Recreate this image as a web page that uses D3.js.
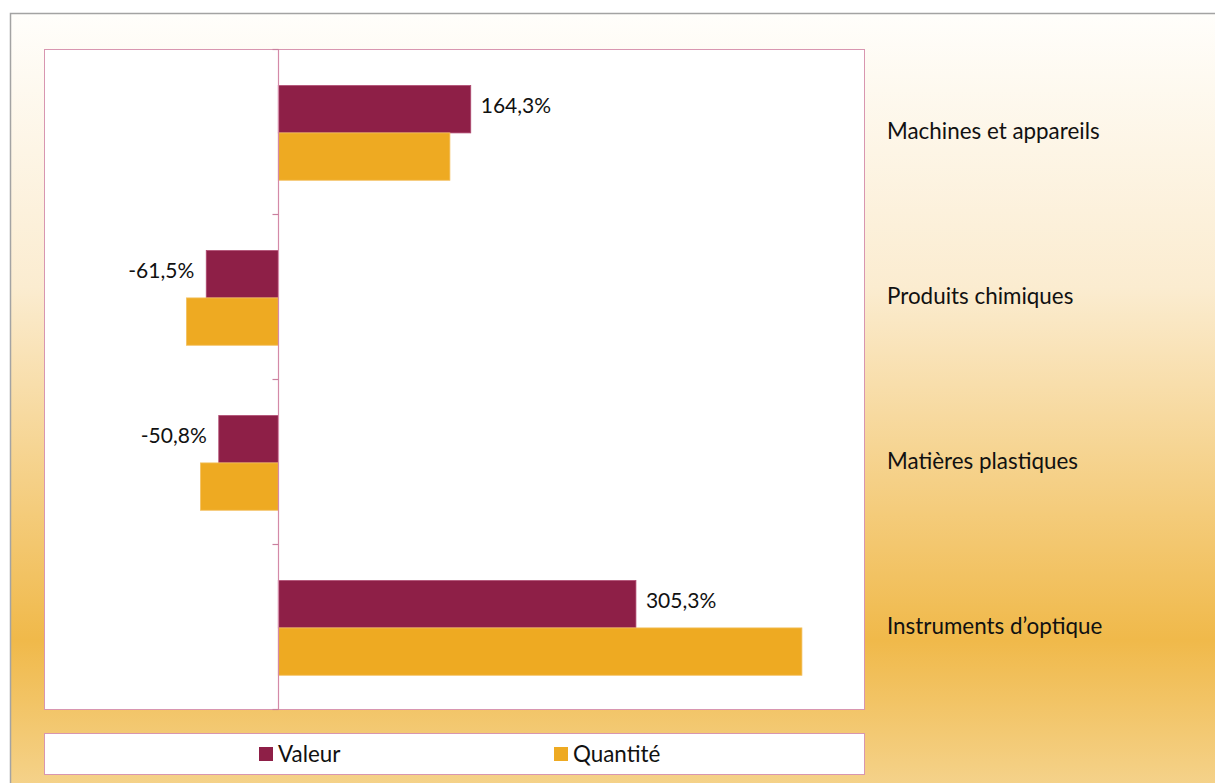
<!DOCTYPE html>
<html>
<head>
<meta charset="utf-8">
<script src="https://cdn.jsdelivr.net/npm/d3@7"></script>
<style>
  body { margin: 0; background: #fff; }
  svg { display: block; font-family: Lato, "Noto Sans", sans-serif; }
</style>
</head>
<body>
<div id="chart"></div>
<script>
// Data
const categories = ["Machines et appareils", "Produits chimiques", "Matières plastiques", "Instruments d’optique"];
const series = ["Valeur", "Quantité"];
const valeur = [164.3, -61.5, -50.8, 305.3];
const quantite = [146.5, -78.4, -66.4, 447.0];
const valeurLabels = ["164,3%", "-61,5%", "-50,8%", "305,3%"];
const colors = ["#8e1f47", "#eeaa22"];

const width = 1215;
const height = 783;

const svg = d3.select("#chart")
    .append("svg")
    .attr("width", width)
    .attr("height", height);

// Background gradient
const defs = svg.append("defs");
const grad = defs.append("linearGradient")
    .attr("id", "bg")
    .attr("x1", 0).attr("y1", 0).attr("x2", 0).attr("y2", 1);
grad.append("stop").attr("offset", "0%").attr("stop-color", "#fffefb");
grad.append("stop").attr("offset", "35%").attr("stop-color", "#fbecd0");
grad.append("stop").attr("offset", "80%").attr("stop-color", "#f0b94a");
grad.append("stop").attr("offset", "100%").attr("stop-color", "#f5d48f");

svg.append("rect")
    .attr("x", 10.5)
    .attr("y", 13.5)
    .attr("width", width)
    .attr("height", height)
    .attr("fill", "url(#bg)")
    .attr("stroke", "#a3a3a3")
    .attr("stroke-width", 1.5);

// Plot area
const plot = {left: 44, right: 864, top: 49, bottom: 709};

svg.append("rect")
    .attr("x", plot.left + 0.5)
    .attr("y", plot.top + 0.5)
    .attr("width", plot.right - plot.left)
    .attr("height", plot.bottom - plot.top)
    .attr("fill", "#fff")
    .attr("stroke", "#d896b0")
    .attr("stroke-width", 1);

const x = d3.scaleLinear()
    .domain([-200, 500])
    .range([plot.left, plot.right]);

const y = d3.scaleBand()
    .domain(categories)
    .range([plot.top, plot.bottom])
    .padding(0);

const ySub = d3.scaleBand()
    .domain(series)
    .range([0, y.bandwidth()])
    .paddingInner(0)
    .paddingOuter(0.742)
    .align(0.52);

const rows = categories.map((c, i) => ({
    cat: c,
    values: [
        {key: series[0], value: valeur[i], color: colors[0]},
        {key: series[1], value: quantite[i], color: colors[1]}
    ]
}));

// Bars
const groups = svg.selectAll(".grp")
    .data(rows)
    .enter().append("g")
    .attr("class", "grp")
    .attr("transform", d => "translate(0," + y(d.cat) + ")");

groups.selectAll("rect")
    .data(d => d.values)
    .enter().append("rect")
    .attr("x", d => x(Math.min(0, d.value)))
    .attr("y", d => ySub(d.key))
    .attr("width", d => Math.abs(x(d.value) - x(0)))
    .attr("height", ySub.bandwidth())
    .attr("fill", d => d.color)
    .attr("stroke", d => d.key === "Valeur" ? "#b04a70" : "#f3c060")
    .attr("stroke-width", 0.8);

// Vertical axis at zero with ticks on the left
const zx = Math.round(x(0)) + 0.5;
svg.append("line")
    .attr("x1", zx).attr("x2", zx)
    .attr("y1", plot.top).attr("y2", plot.bottom + 1)
    .attr("stroke", "#d48aa8")
    .attr("stroke-width", 1.2);

const tickYs = categories.map(c => y(c)).concat([plot.bottom]);
svg.selectAll(".tick")
    .data(tickYs)
    .enter().append("line")
    .attr("x1", zx - 6).attr("x2", zx)
    .attr("y1", d => d + 0.5).attr("y2", d => d + 0.5)
    .attr("stroke", "#c9809e")
    .attr("stroke-width", 1.2);

// Data labels (Valeur)
svg.selectAll(".lbl")
    .data(rows)
    .enter().append("text")
    .attr("class", "lbl")
    .attr("x", (d, i) => valeur[i] >= 0 ? x(valeur[i]) + 10 : x(valeur[i]) - 12)
    .attr("y", d => y(d.cat) + ySub("Valeur") + ySub.bandwidth() / 2 - 4)
    .attr("dy", "0.35em")
    .attr("text-anchor", (d, i) => valeur[i] >= 0 ? "start" : "end")
    .style("font-size", "21px")
    .style("fill", "#111")
    .text((d, i) => valeurLabels[i]);

// Category labels on the right
svg.selectAll(".cat")
    .data(categories)
    .enter().append("text")
    .attr("class", "cat")
    .attr("x", 887)
    .attr("y", d => y(d) + y.bandwidth() / 2)
    .attr("dy", "0.35em")
    .style("font-size", "22.4px")
    .style("fill", "#111")
    .text(d => d);

// Legend
svg.append("rect")
    .attr("x", 44.5)
    .attr("y", 733.5)
    .attr("width", 820)
    .attr("height", 41)
    .attr("fill", "#fff")
    .attr("stroke", "#d896b0");

const legendX = [259, 554];
const legend = svg.selectAll(".leg")
    .data(series)
    .enter().append("g")
    .attr("class", "leg")
    .attr("transform", (d, i) => "translate(" + legendX[i] + ",747)");

legend.append("rect")
    .attr("width", 14)
    .attr("height", 14)
    .attr("fill", (d, i) => colors[i]);

legend.append("text")
    .attr("x", 19)
    .attr("y", 7)
    .attr("dy", "0.35em")
    .style("font-size", "22.4px")
    .style("fill", "#111")
    .text(d => d);
</script>
</body>
</html>
